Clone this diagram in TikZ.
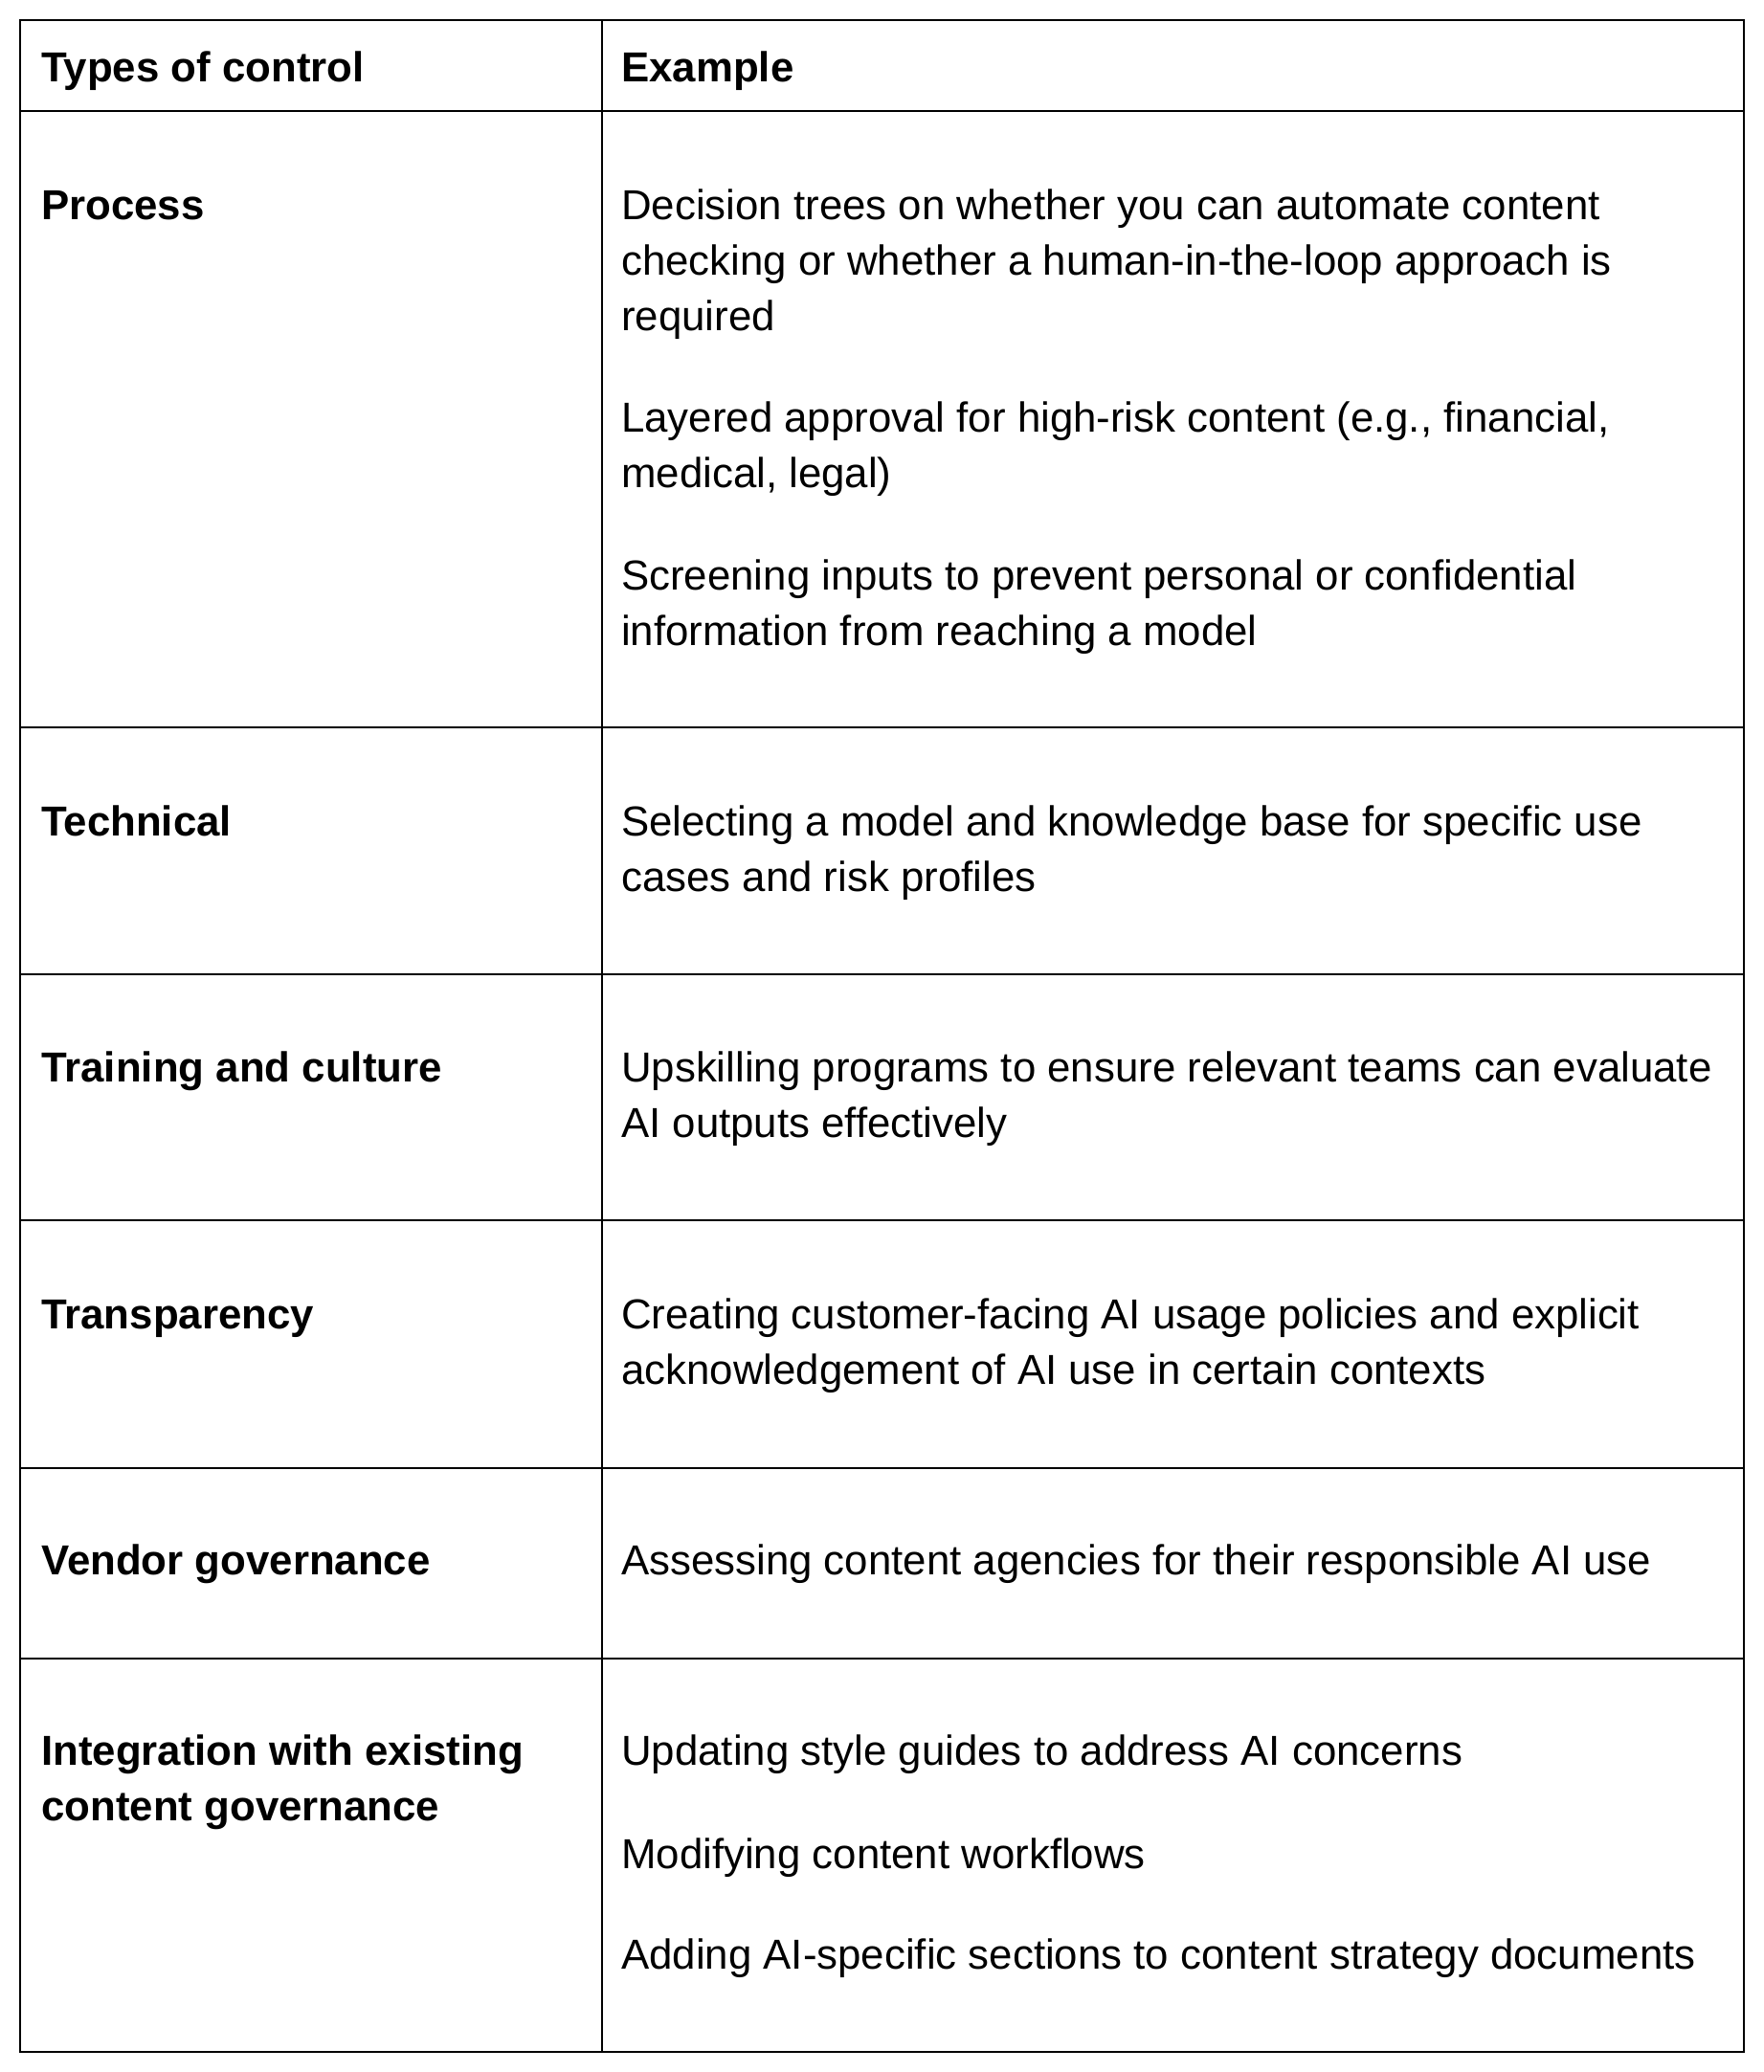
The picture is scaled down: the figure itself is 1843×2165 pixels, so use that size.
\documentclass[tikz,border=0pt]{standalone}
\usepackage{fontspec}
\setmainfont{Liberation Sans}
\begin{document}
\begin{tikzpicture}[x=1pt,y=-1pt,
  txt/.style={anchor=base west,inner sep=0pt,font=\fontsize{43.8}{58}\selectfont},
  hd/.style={txt,font=\fontsize{43.8}{58}\selectfont\bfseries},
  grid/.style={line width=2.6pt,draw=black}]
\useasboundingbox[fill=white] (0,0) rectangle (1843,2165);
\draw[grid] (21,21) rectangle (1822,2144);
\draw[grid] (629,21) -- (629,2144);
\foreach \y in {116,760,1018,1275,1534,1733} \draw[grid] (21,\y) -- (1822,\y);
\node[hd] (h1) at (43,85.7) {Types of control};
\node[hd] (h2) at (649,85.7) {Example};
\node[hd] (l1) at (43,229.3) {Process};
\node[txt] (e1a) at (649,229.3) {Decision trees on whether you can automate content};
\node[txt] (e1b) at (649,287.4) {checking or whether a human-in-the-loop approach is};
\node[txt] (e1c) at (649,345.4) {required};
\node[txt] (e1d) at (649,451.8) {Layered approval for high-risk content (e.g., financial,};
\node[txt] (e1e) at (649,509.8) {medical, legal)};
\node[txt] (e1f) at (649,616.2) {Screening inputs to prevent personal or confidential};
\node[txt] (e1g) at (649,674.2) {information from reaching a model};
\node[hd] (l2) at (43,873.2) {Technical};
\node[txt] (e2a) at (649,873.2) {Selecting a model and knowledge base for specific use};
\node[txt] (e2b) at (649,931.2) {cases and risk profiles};
\node[hd] (l3) at (43,1130.1) {Training and culture};
\node[txt] (e3a) at (649,1130.1) {Upskilling programs to ensure relevant teams can evaluate};
\node[txt] (e3b) at (649,1188.2) {AI outputs effectively};
\node[hd] (l4) at (43,1388.5) {Transparency};
\node[txt] (e4a) at (649,1388.5) {Creating customer-facing AI usage policies and explicit};
\node[txt] (e4b) at (649,1446.5) {acknowledgement of AI use in certain contexts};
\node[hd] (l5) at (43,1645.5) {Vendor governance};
\node[txt] (e5a) at (649,1645.5) {Assessing content agencies for their responsible AI use};
\node[hd] (l6a) at (43,1844.4) {Integration with existing};
\node[hd] (l6b) at (43,1902.5) {content governance};
\node[txt] (e6a) at (649,1844.4) {Updating style guides to address AI concerns};
\node[txt] (e6b) at (649,1952.2) {Modifying content workflows};
\node[txt] (e6c) at (649,2057.2) {Adding AI-specific sections to content strategy documents};
\end{tikzpicture}
\end{document}
